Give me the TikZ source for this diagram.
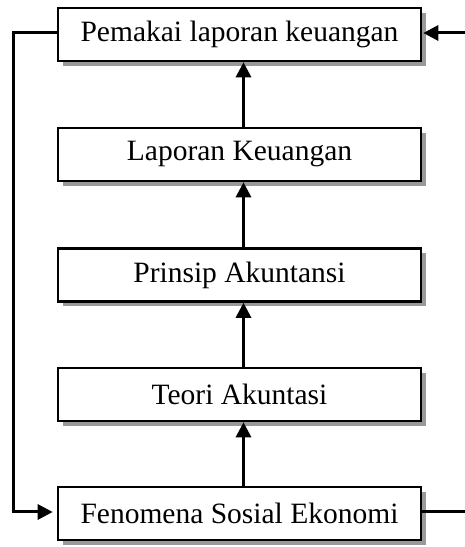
\documentclass[tikz,border=0pt]{standalone}
\usepackage{fontspec}
\setmainfont{Liberation Serif}
\usetikzlibrary{shadows,arrows.meta}
\begin{document}
\begin{tikzpicture}[x=1pt,y=1pt,
  box/.style={draw=black, line width=2.6pt, fill=white, minimum width=363pt, minimum height=53pt,
    inner sep=0pt, font=\fontsize{29.5}{34}\selectfont,
    drop shadow={shadow xshift=5pt, shadow yshift=-5pt, fill=black!40, opacity=1}},
  conn/.style={line width=3pt},
  arr/.style={conn, -{Triangle[length=15pt,width=15pt]}}]
\useasboundingbox (0,0) rectangle (464,547);
\node[box] (pem) at (239.5,512.5) {Pemakai laporan keuangan};
\node[box] (lap) at (239.5,392.5) {Laporan Keuangan};
\node[box] (pri) at (239.5,272) {Prinsip Akuntansi};
\node[box] (teo) at (239.5,152.5) {Teori Akuntasi};
\node[box] (fen) at (239.5,33.5) {Fenomena Sosial Ekonomi};
\coordinate (L) at (13.5,35);
\coordinate (Rt) at (466,514);
\coordinate (Rb) at (466,35);
\draw[arr] ([xshift=4pt]fen.north) -- ([xshift=4pt]teo.south);
\draw[arr] ([xshift=4pt]teo.north) -- ([xshift=4pt]pri.south);
\draw[arr] ([xshift=4pt]pri.north) -- ([xshift=4pt]lap.south);
\draw[arr] ([xshift=4pt]lap.north) -- ([xshift=4pt]pem.south);
\draw[arr, shorten >=4pt] ([yshift=1.5pt]pem.west) -| (L) -- ([yshift=1.5pt]fen.west);
\draw[arr] (Rt) -- ([xshift=1pt,yshift=1.5pt]pem.east);
\draw[conn] ([yshift=1.5pt]fen.east) -- (Rb);
\end{tikzpicture}
\end{document}
